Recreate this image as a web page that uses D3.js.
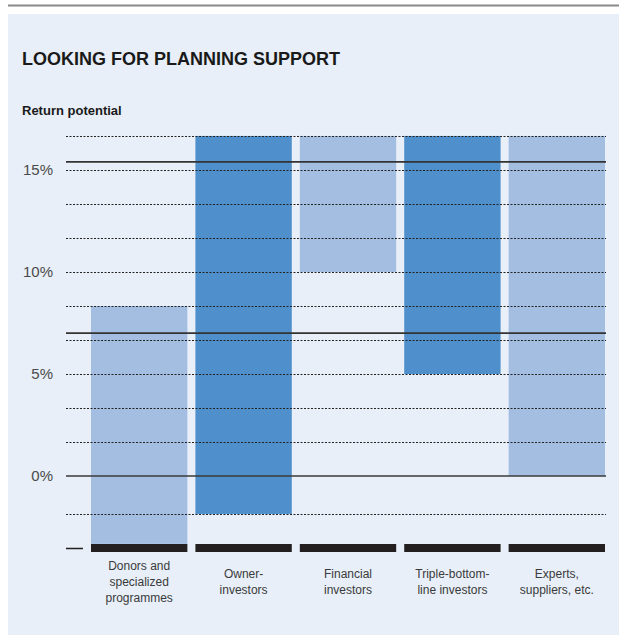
<!DOCTYPE html>
<html>
<head>
<meta charset="utf-8">
<script src="https://cdn.jsdelivr.net/npm/d3@7"></script>
<style>
  body { margin: 0; background: #fff; }
  svg { display: block; font-family: "Liberation Sans", Arial, sans-serif; }
</style>
</head>
<body>
<div class="canvas"></div>
<script>
// data
const categories = ['Donors and specialized programmes', 'Owner-investors', 'Financial investors', 'Triple-bottom-line investors', 'Experts, suppliers, etc.'];
const labelLines = [['Donors and', 'specialized', 'programmes'], ['Owner-', 'investors'], ['Financial', 'investors'], ['Triple-bottom-', 'line investors'], ['Experts,', 'suppliers, etc.']];
const lowValues = [-3.33, -1.86, 10, 5, 0];
const highValues = [8.33, 16.67, 16.67, 16.67, 16.67];
const shades = ['light', 'dark', 'light', 'dark', 'light'];
const tickValues = [0, 5, 10, 15];
const tickLabels = ['0%', '5%', '10%', '15%'];
const gridValues = [16.67, 15, 13.33, 11.67, 10, 8.33, 6.67, 5, 3.33, 1.67, -1.86];
const refValues = [15.4, 7];

const colors = {light: '#a4bee2', dark: '#4f8fcb'};

const svg = d3.select('.canvas')
    .append('svg')
    .attr('width', 619)
    .attr('height', 636);

// frame
svg.append('line')
    .attr('x1', 8).attr('x2', 619)
    .attr('y1', 5.5).attr('y2', 5.5)
    .attr('stroke', '#8a8a8a')
    .attr('stroke-width', 2);

svg.append('rect')
    .attr('x', 8).attr('y', 14)
    .attr('width', 611).attr('height', 621)
    .attr('fill', '#e8eff8');

svg.append('text')
    .attr('x', 22).attr('y', 65)
    .attr('font-size', 18)
    .attr('font-weight', 'bold')
    .attr('fill', '#1a1a1a')
    .text('LOOKING FOR PLANNING SUPPORT');

svg.append('text')
    .attr('x', 22).attr('y', 115)
    .attr('font-size', 13)
    .attr('font-weight', 'bold')
    .attr('fill', '#1a1a1a')
    .text('Return potential');

// scales
const y = d3.scaleLinear()
    .domain([0, 15])
    .range([476, 170]);

const x = d3.scaleBand()
    .domain(categories)
    .range([91, 605])
    .paddingInner(0.077);

const gridLeft = 66, gridRight = 606;

// bars
const data = categories.map((c, i) => ({name: c, low: lowValues[i], high: highValues[i], shade: shades[i], lines: labelLines[i]}));

svg.append('g').selectAll('rect')
    .data(data)
    .enter()
    .append('rect')
    .attr('x', d => x(d.name))
    .attr('width', x.bandwidth())
    .attr('y', d => y(d.high))
    .attr('height', d => y(d.low) - y(d.high))
    .attr('fill', d => colors[d.shade]);

// dotted gridlines on top of bars
svg.append('g').selectAll('line')
    .data(gridValues)
    .enter()
    .append('line')
    .attr('x1', gridLeft).attr('x2', gridRight)
    .attr('y1', d => Math.round(y(d)) + 0.5)
    .attr('y2', d => Math.round(y(d)) + 0.5)
    .attr('stroke', '#222')
    .attr('stroke-width', 1)
    .attr('stroke-dasharray', '2,1.5');

// zero line and reference lines
svg.append('g').selectAll('line')
    .data([0].concat(refValues))
    .enter()
    .append('line')
    .attr('x1', gridLeft).attr('x2', gridRight)
    .attr('y1', d => y(d))
    .attr('y2', d => y(d))
    .attr('stroke', d => d === 0 ? '#3a3a3a' : '#333')
    .attr('stroke-width', d => d === 0 ? 1.3 : 1.8);

// y axis labels
const yAxis = d3.axisLeft(y)
    .tickValues(tickValues)
    .tickFormat((d, i) => tickLabels[i])
    .tickSize(0)
    .tickPadding(0);

const yAxisGroup = svg.append('g')
    .attr('transform', 'translate(53, 0)')
    .call(yAxis);

yAxisGroup.select('.domain').remove();
yAxisGroup.selectAll('text')
    .attr('font-family', '"Liberation Sans", Arial, sans-serif')
    .attr('font-size', 15)
    .attr('fill', '#4a4a4a');

// baseline markers
const baseY = 544;
svg.append('g').selectAll('rect')
    .data(data)
    .enter()
    .append('rect')
    .attr('x', d => x(d.name))
    .attr('width', x.bandwidth())
    .attr('y', baseY)
    .attr('height', 8)
    .attr('fill', '#231f20');

svg.append('line')
    .attr('x1', 66).attr('x2', 83)
    .attr('y1', 548.5).attr('y2', 548.5)
    .attr('stroke', '#231f20')
    .attr('stroke-width', 1.5);

// category labels
const labels = svg.append('g').selectAll('text')
    .data(data)
    .enter()
    .append('text')
    .attr('text-anchor', 'middle')
    .attr('font-size', 12)
    .attr('fill', '#3a3a3a')
    .attr('x', d => x(d.name) + x.bandwidth() / 2);

labels.each(function(d) {
    const n = d.lines.length;
    const top = 586 - (n - 1) * 8;
    d3.select(this).selectAll('tspan')
        .data(d.lines)
        .enter()
        .append('tspan')
        .attr('x', x(d.name) + x.bandwidth() / 2)
        .attr('y', (t, j) => top + j * 16)
        .text(t => t);
});
</script>
</body>
</html>
